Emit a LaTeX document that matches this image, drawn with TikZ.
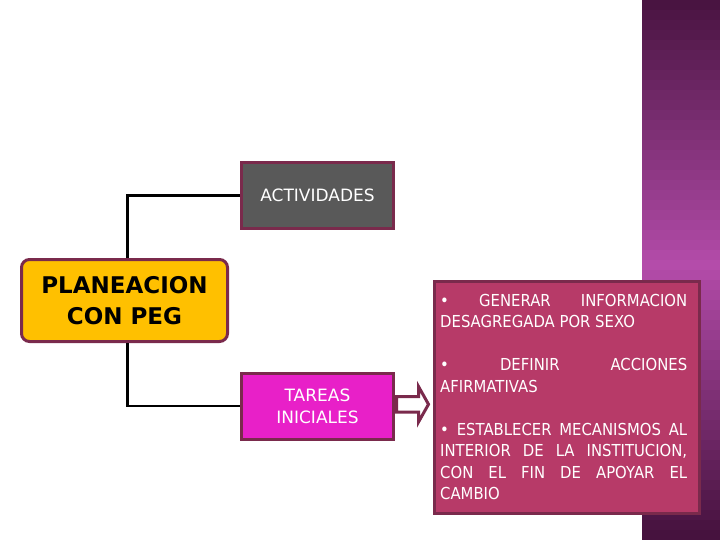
\documentclass[tikz,border=0pt]{standalone}
\usepackage{fontspec}
\setmainfont{DejaVu Sans}
\newfontfamily\infofont{DejaVu Sans}[FakeStretch=0.9]
\usepackage{tikz}
\usetikzlibrary{calc}
\setlength{\parindent}{0pt}
\definecolor{borde}{RGB}{122,42,76}
\definecolor{oro}{RGB}{255,192,0}
\definecolor{gris}{RGB}{89,89,89}
\definecolor{magentaT}{RGB}{232,32,200}
\definecolor{rosa}{RGB}{183,58,104}
\definecolor{bandaT}{RGB}{70,18,62}
\definecolor{bandaM}{RGB}{180,76,170}
\tikzset{
  caja/.style  ={draw=borde, line width=3pt, minimum width=152pt, minimum height=66pt, text=white, align=center, font=\fontsize{17}{22}\selectfont},
  planS/.style ={draw=borde, line width=3pt, fill=oro, rounded corners=8pt, minimum width=206pt, minimum height=82pt, align=center, font=\bfseries\fontsize{23}{31}\selectfont},
  infoS/.style ={draw=borde, line width=3pt, fill=rosa, minimum width=265pt, minimum height=232pt},
  infoT/.style ={text=white, text width=247pt, inner sep=0pt, align=justify, font=\infofont\fontsize{16.5}{21.5}\selectfont},
  conn/.style  ={black, line width=2.5pt},
  flecha/.style={draw=borde, line width=3pt, fill=white, line join=miter},
}

\begin{document}
\begin{tikzpicture}[x=1pt, y=-1pt]
  \useasboundingbox (0,0) rectangle (720,540);
  \foreach \i in {0,...,53}{
    \pgfmathtruncatemacro\p{100-abs(\i-26)*100/27}
    \fill[bandaM!\p!bandaT] (642,10*\i) rectangle (720,10*\i+10.5);
  }
  \node[planS] (plan) at (124.5,300.5) {PLANEACION\\CON PEG};
  \node[caja, fill=gris] (act) at (317.5,195.5) {ACTIVIDADES};
  \node[caja, fill=magentaT] (tareas) at (317.5,406) {TAREAS\\INICIALES};
  \node[infoS] (info) at (567,397.5) {};
  \node[infoT, anchor=north west] (infotxt) at ($(info.north west)+(7,14)$) {%
    \textbullet\ GENERAR INFORMACION\break DESAGREGADA POR SEXO\par\vskip\baselineskip
    \textbullet\ DEFINIR ACCIONES\break AFIRMATIVAS\par\vskip\baselineskip
    \textbullet\ ESTABLECER MECANISMOS AL\break INTERIOR DE LA INSTITUCION,\break CON EL FIN DE APOYAR EL\break CAMBIO\par};
  \draw[conn] ($(plan.north)+(3,0)$) |- (act.west);
  \draw[conn] ($(plan.south)+(3,0)$) |- (tareas.west);
  \draw[flecha] ($(tareas.east)+(1.5,-9.5)$) -- ($(tareas.east)+(23.5,-9.5)$) -- ($(tareas.east)+(23.5,-19.5)$)
    -- ($(tareas.east)+(33.5,-1.7)$) -- ($(tareas.east)+(23.5,16)$) -- ($(tareas.east)+(23.5,6)$)
    -- ($(tareas.east)+(1.5,6)$) -- cycle;
\end{tikzpicture}
\end{document}
